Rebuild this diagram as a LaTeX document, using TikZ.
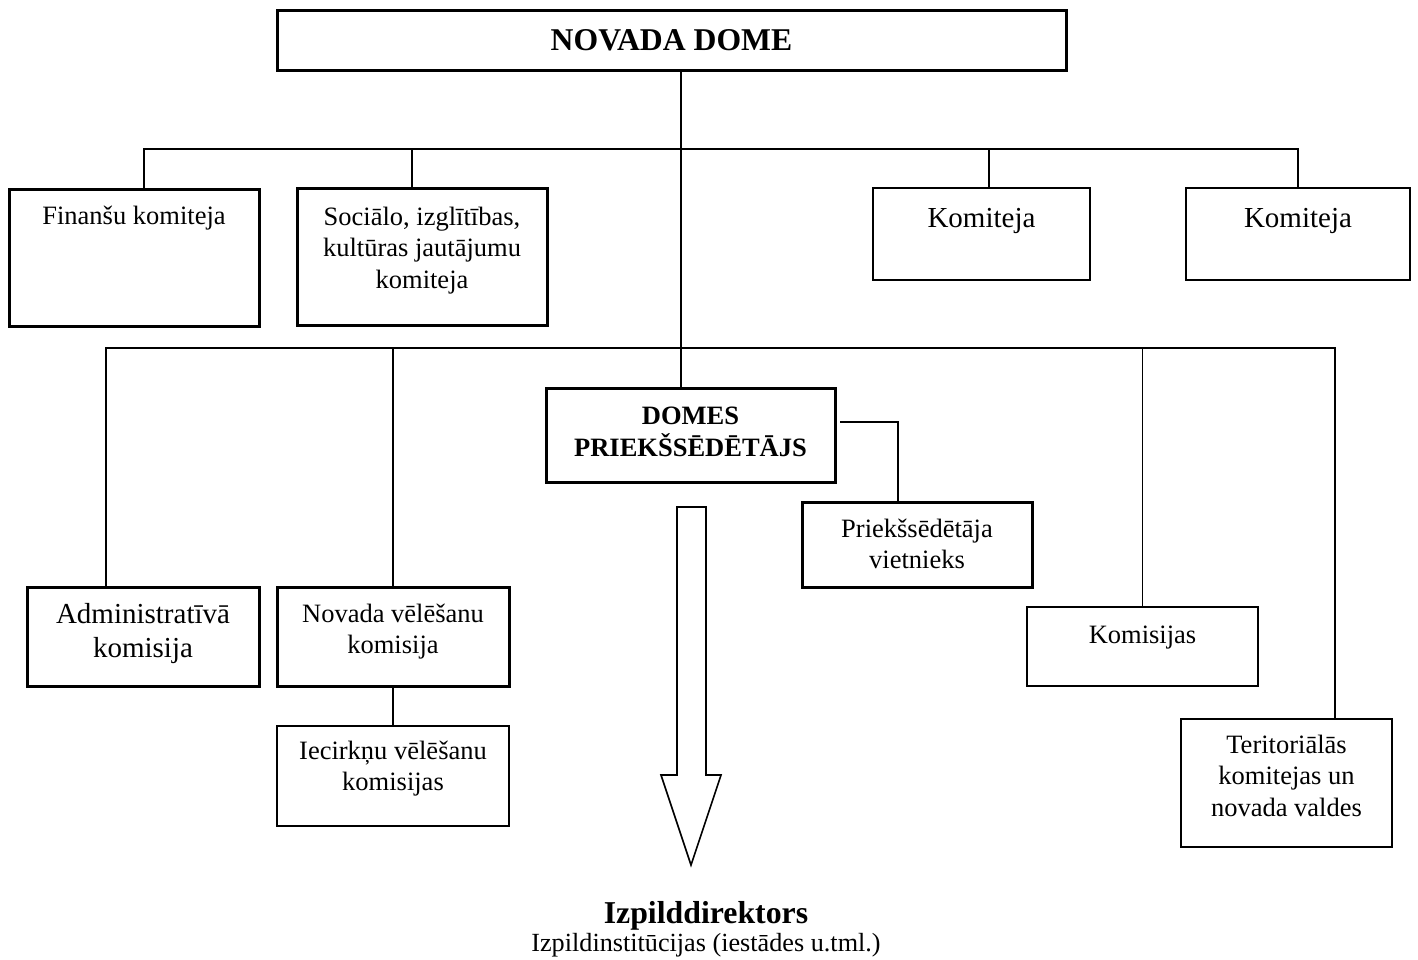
\documentclass[tikz,border=0pt]{standalone}
\usepackage{fontspec}
\setmainfont{Liberation Serif}
\usetikzlibrary{positioning}

\newcommand{\inbox}[4]{\parbox[c][#2pt][t]{#1pt}{\centering\rule{0pt}{#3pt}#4}}

\begin{document}
\begin{tikzpicture}[x=1pt,y=-1pt,
    thickbox/.style={draw, line width=3pt, inner sep=0pt, outer sep=0pt, font=\fontsize{26.5}{31.5}\selectfont},
    thinbox/.style={draw, line width=1.5pt, inner sep=0pt, outer sep=0pt, font=\fontsize{26.5}{31.5}\selectfont},
    big/.style={font=\fontsize{29}{34}\selectfont},
    link/.style={line width=1.6pt}]
    \useasboundingbox (0,0) rectangle (1418,959);
%
    \node[thickbox, font=\bfseries\fontsize{31.7}{36}\selectfont] (dome) at (671.5,40) {\inbox{789}{60}{40}{NOVADA DOME}};
    \node[thickbox] (fin) at (134,257.5) {\inbox{250}{137}{35}{Finanšu komiteja}};
    \node[thickbox] (soc) at (422,256.5) {\inbox{250}{137}{37}{Sociālo, izglītības,\\kultūras jautājumu\\komiteja}};
    \node[thinbox, big] (kom1) at (981.5,234) {\inbox{217}{92}{39}{Komiteja}};
    \node[thinbox, big] (kom2) at (1298,234) {\inbox{224}{92}{39}{Komiteja}};
%
    \node[thickbox, font=\bfseries\fontsize{26.5}{32}\selectfont] (pre) at (690.5,435) {\inbox{289}{94}{36}{DOMES\\PRIEKŠSĒDĒTĀJS}};
    \node[thickbox] (vie) at (917,544.5) {\inbox{230}{85}{35}{Priekšsēdētāja\\vietnieks}};
    \node[thickbox, big] (adm) at (143,636.5) {\inbox{232}{99}{36}{Administratīvā\\komisija}};
    \node[thickbox] (nov) at (393,636.5) {\inbox{232}{99}{35}{Novada vēlēšanu\\komisija}};
    \node[thinbox] (iec) at (393,776) {\inbox{232}{100}{33}{Iecirkņu vēlēšanu\\komisijas}};
    \node[thinbox] (kms) at (1142.5,646.5) {\inbox{231}{79}{36}{Komisijas}};
    \node[thinbox] (ter) at (1286.5,783) {\inbox{211}{128}{34}{Teritoriālās\\komitejas un\\novada valdes}};
%
    \node[anchor=base, inner sep=0pt, font=\bfseries\fontsize{31.8}{36}\selectfont] (izp) at (706,923) {Izpilddirektors};
    \node[anchor=base, inner sep=0pt, font=\fontsize{26.2}{31}\selectfont] (inst) at (706,951) {Izpildinstitūcijas (iestādes u.tml.)};
%
    \coordinate (trunk) at (681,0);
    \coordinate (bar1) at (0,149);
    \coordinate (bar2) at (0,348);
    \draw[link] (trunk |- dome.south) -- (trunk |- pre.north);
    \draw[link] ([xshift=10pt]fin.north) |- (bar1 -| kom2.north) -- (kom2.north);
    \draw[link] ([xshift=-10pt]soc.north) -- ([xshift=-10pt]soc.north |- bar1);
    \draw[link] ([xshift=7.5pt]kom1.north) -- ([xshift=7.5pt]kom1.north |- bar1);
    \draw[link] ([xshift=-37pt]adm.north) |- ([xshift=48.5pt]ter.north |- bar2) -- ([xshift=48.5pt]ter.north);
    \draw[link] (nov.north) -- (nov.north |- bar2);
    \draw[link] (kms.north) -- (kms.north |- bar2);
    \draw[link] (nov.south) -- (iec.north);
    \draw[link] ([shift={(5pt,13pt)}]pre.east) -| ([xshift=-19pt]vie.north);
%
    \coordinate (arr) at (691.5,507);
    \draw[link, line join=miter] (arr) ++(-14.5,0) -- ++(29,0) -- ++(0,268) -- ++(15,0) -- ++(-30,90) -- ++(-30,-90) -- ++(16,0) -- cycle;
\end{tikzpicture}
\end{document}
